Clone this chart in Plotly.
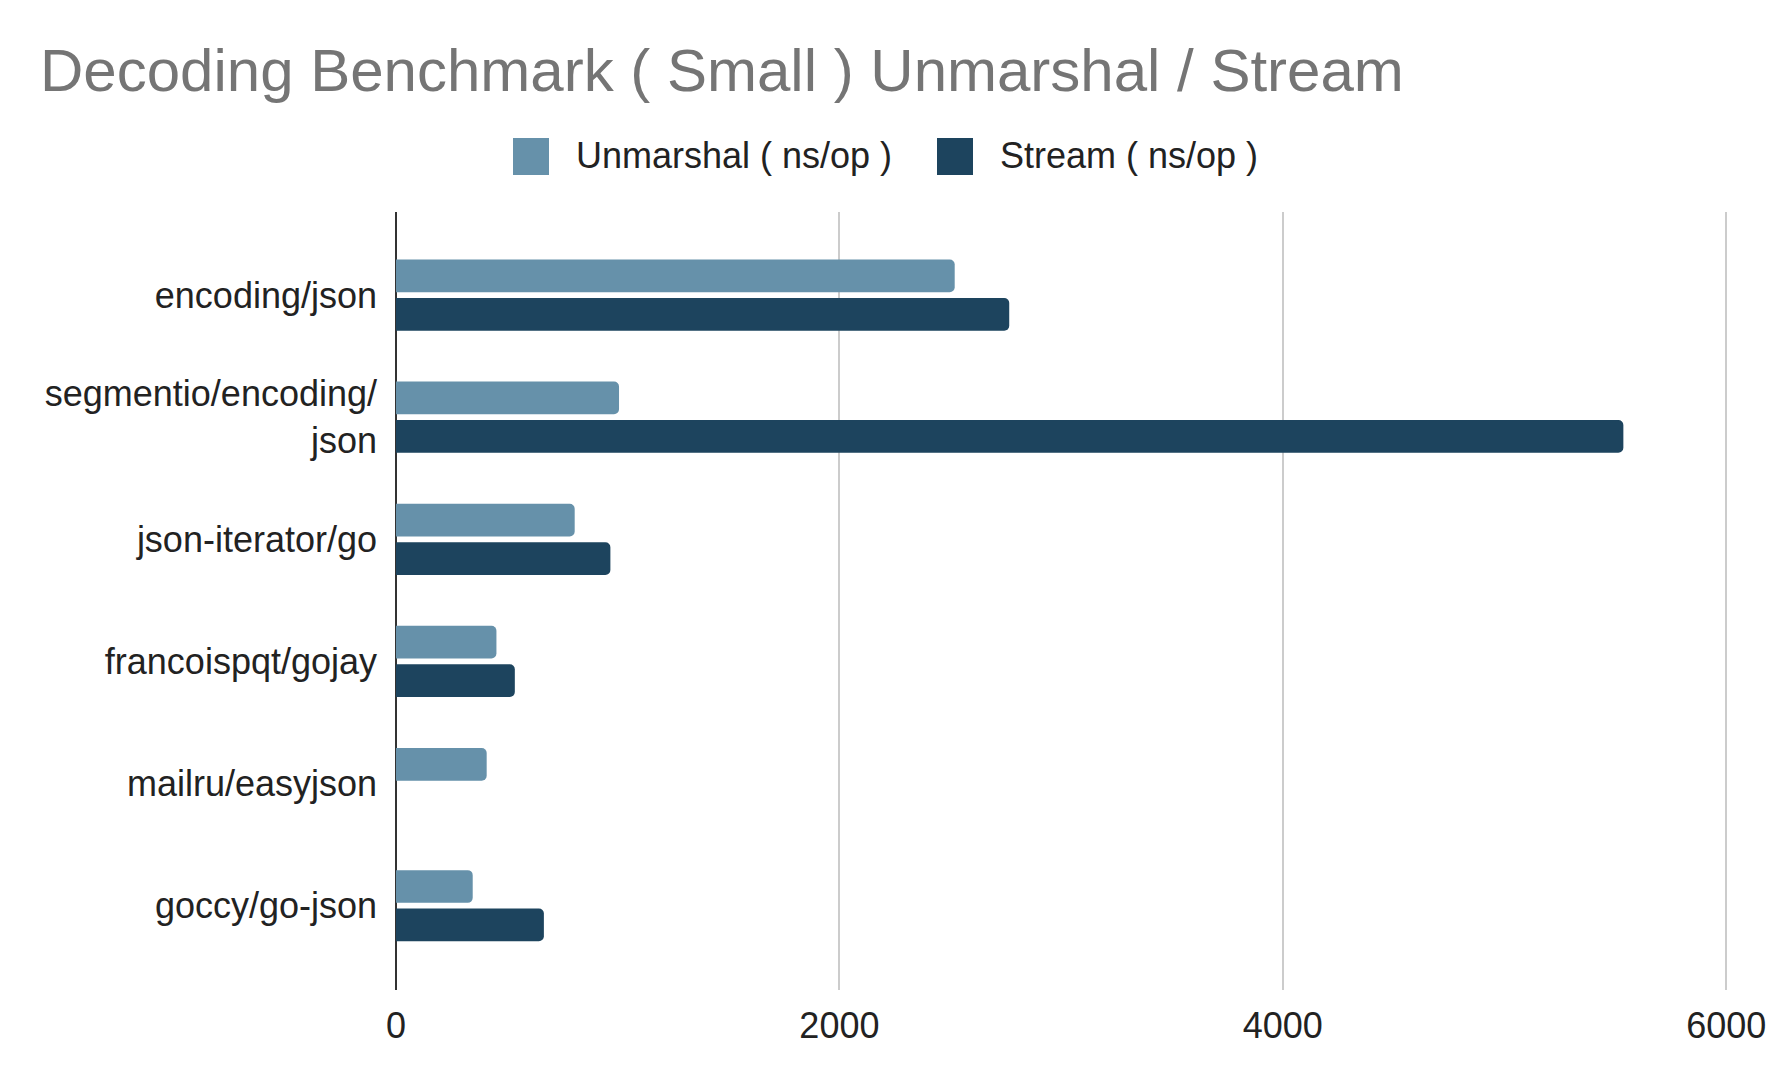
import plotly.graph_objects as go

# ---- data ----
categories = [
    "encoding/json",
    "segmentio/encoding/<br>json",
    "json-iterator/go",
    "francoispqt/gojay",
    "mailru/easyjson",
    "goccy/go-json",
]
unmarshal_ns = [2520, 1006, 806, 453, 409, 346]
stream_ns = [2766, 5536, 967, 536, None, 667]
series_names = ["Unmarshal ( ns/op )", "Stream ( ns/op )"]
x_ticks = [0, 2000, 4000, 6000]

# ---- style ----
# the page body has an 8px margin; the figure is sized to sit inside it
OFF = 8
W, H = 1778 - 2 * OFF, 1082 - 2 * OFF
ML, MR, MT, MB = 396 - OFF, 42, 212 - OFF, 84
C_UNM = "#6691AA"
C_STR = "#1D445E"
FONT = "Liberation Sans, Arial, sans-serif"

fig = go.Figure()
fig.add_trace(go.Bar(
    y=categories, x=unmarshal_ns, orientation="h", name=series_names[0],
    marker=dict(color=C_UNM, cornerradius=5, line=dict(width=0)),
    showlegend=False,
))
fig.add_trace(go.Bar(
    y=categories, x=stream_ns, orientation="h", name=series_names[1],
    marker=dict(color=C_STR, cornerradius=5, line=dict(width=0)),
    showlegend=False,
))

# custom legend (large swatches); positions given in page pixels
pw, ph = W - ML - MR, H - MT - MB
def px_x(p):
    return (p - OFF - ML) / pw
def px_y(p):
    return (H - MB - (p - OFF)) / ph

legend_items = [
    (series_names[0], C_UNM, 513, 574),
    (series_names[1], C_STR, 937, 998),
]
shapes = []
annotations = []
for name, col, sx, tx in legend_items:
    shapes.append(dict(
        type="rect", xref="paper", yref="paper",
        x0=px_x(sx), x1=px_x(sx + 36), y0=px_y(175), y1=px_y(138),
        fillcolor=col, line=dict(width=0), layer="above",
    ))
    annotations.append(dict(
        xref="paper", yref="paper", x=px_x(tx), y=px_y(156),
        xanchor="left", yanchor="middle", showarrow=False,
        text=name, font=dict(family=FONT, size=36, color="#222222"),
    ))

fig.update_layout(
    width=W, height=H,
    margin=dict(l=ML, r=MR, t=MT, b=MB, autoexpand=False),
    paper_bgcolor="white", plot_bgcolor="white",
    barmode="group", bargap=0.37, bargroupgap=0.15,
    title=dict(
        text="Decoding Benchmark ( Small ) Unmarshal / Stream",
        font=dict(family=FONT, size=60, color="#757575"),
        xref="container", yref="container",
        x=(40 - OFF) / W, xanchor="left", y=1 - (70 - OFF) / H, yanchor="middle",
    ),
    shapes=shapes,
    annotations=annotations,
    xaxis=dict(
        range=[0, 6008], tickvals=x_ticks, ticktext=[str(v) for v in x_ticks],
        showgrid=True, gridcolor="#cccccc", gridwidth=2,
        zeroline=True, zerolinecolor="#333333", zerolinewidth=2,
        showline=False, ticks="", ticklabelstandoff=11,
        tickfont=dict(family=FONT, size=36, color="#222222"),
        automargin=False, fixedrange=True,
    ),
    yaxis=dict(
        type="category", range=[5.69, -0.68],
        showgrid=False, zeroline=False, showline=False, ticks="",
        ticklabelstandoff=18,
        tickfont=dict(family=FONT, size=36, color="#222222"),
        automargin=False, fixedrange=True,
    ),
    font=dict(family=FONT),
)

fig.write_html("out.html", config={"displayModeBar": False})
